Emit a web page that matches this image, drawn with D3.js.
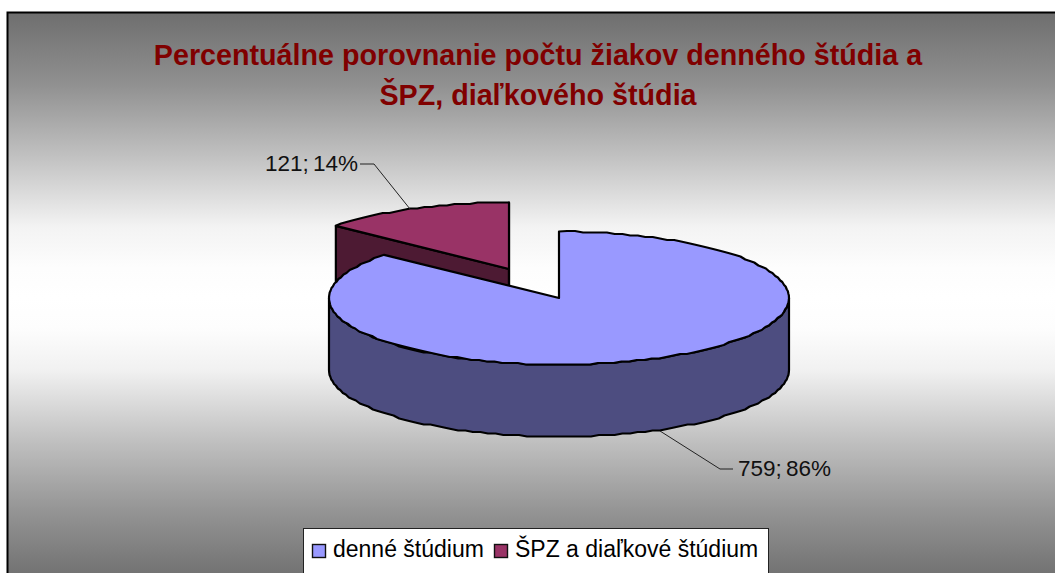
<!DOCTYPE html>
<html><head><meta charset="utf-8">
<script src="https://cdn.jsdelivr.net/npm/d3@7/dist/d3.min.js"></script>
<style>html,body{margin:0;padding:0;background:#fff;overflow:hidden}svg{display:block}</style>
</head><body><svg id="c" width="1055" height="573"></svg>
<script>
const titleLines = ["Percentuálne porovnanie počtu žiakov denného štúdia a", "ŠPZ, diaľkového štúdia"];
const categories = ["denné štúdium", "ŠPZ a diaľkové štúdium"];
const values = [759, 121];
const percents = ["86%", "14%"];
const topColors = ["#9999ff", "#993366"];
const sideColors = ["#4d4d80", "#4d1a33"];

const svg = d3.select("#c");
const defs = svg.append("defs");
const g = defs.append("linearGradient").attr("id","bg").attr("gradientUnits","userSpaceOnUse").attr("x1",0).attr("y1",12).attr("x2",0).attr("y2",573);
[[12,"#6e6e6e"],[84,"#909090"],[155,"#c0c0c0"],[227,"#f3f3f3"],[268,"#fdfdfd"],[298,"#ffffff"],[328,"#fdfdfd"],[370,"#f1f1f1"],[441,"#c0c0c0"],[513,"#939393"],[573,"#737373"]]
  .forEach(s=>g.append("stop").attr("offset",(s[0]-12)/561).attr("stop-color",s[1]));
svg.append("rect").attr("x",7.5).attr("y",12.5).attr("width",1060).attr("height",570).attr("fill","url(#bg)").attr("stroke","#000").attr("stroke-width",2);

titleLines.forEach((t,i)=>svg.append("text").text(t).attr("x",538).attr("y",65+i*40)
  .attr("text-anchor","middle").attr("font-family","Liberation Sans").attr("font-weight","bold").attr("font-size",28.7).attr("fill","#800000"));

const pie = d3.pie().sort(null).value(d=>d);
const arcs = pie(values);
const rx = d3.scaleLinear().domain([0,1]).range([0,230]);
const ry = d3.scaleLinear().domain([0,1]).range([0,66.5]);
const depth = 72;
const cx = 559, cy = 298;
const offsets = [[0,0],[-50,-29]];
const scaleR = [1,0.99];
const snap = v=>Math.round(v/1.5)*1.5;
const pt = (a,i,dz=0)=>[cx+offsets[i][0]+rx(scaleR[i])*Math.sin(a), cy+offsets[i][1]-ry(1)*Math.cos(a)+dz];
const apex = (i,dz=0)=>[cx+offsets[i][0], cy+offsets[i][1]+dz];
// the outline of the reference is a slightly stepped polyline: snap y lightly
const arcPts = (a0,a1,i,dz)=>{
  const n=Math.max(8,Math.round(Math.abs(a1-a0)/0.035));
  return d3.range(0,n+1).map(k=>{
    const p=pt(a0+(a1-a0)*k/n,i,dz);
    return (k===0||k===n)?p:[p[0],snap(p[1])];
  });
};
const line = d3.line();
function shape(points,fill,sw){
  svg.append("path").attr("d",line(points)+"Z").attr("fill",fill).attr("stroke","#000").attr("stroke-width",sw||2.2).attr("stroke-linejoin","round");
}
// red (exploded) slice, drawn first: it lies behind the blue one
{
  const a=arcs[1];
  shape([pt(a.startAngle,1),apex(1),apex(1,depth),pt(a.startAngle,1,depth)],sideColors[1]);
  shape([apex(1),pt(a.endAngle,1),pt(a.endAngle,1,depth),apex(1,depth)],sideColors[1]);
  shape([apex(1),...arcPts(a.startAngle,a.endAngle,1,0)],topColors[1]);
}
// blue slice: wall of the front half, then the top
{
  const a=arcs[0];
  const s=Math.PI/2, e=Math.PI*1.5;
  const front=arcPts(s,e,0,0);
  const back=arcPts(e,s,0,depth);
  shape([...front,...back],sideColors[0]);
  shape([apex(0),...arcPts(a.startAngle,a.endAngle,0,0)],topColors[0]);
}
// leader lines and labels
const leaders = [[[733,469],[720,469],[660,431]],[[360,164],[374,164],[410,209]]];
leaders.forEach(l=>svg.append("path").attr("d",line(l)).attr("fill","none").attr("stroke","#222").attr("stroke-width",1));
const labelPos=[[738,476,"start"],[358,171,"end"]];
values.forEach((v,i)=>svg.append("text").text(v+"; "+percents[i]).attr("x",labelPos[i][0]).attr("y",labelPos[i][1]).attr("text-anchor",labelPos[i][2])
  .attr("font-family","Liberation Sans").attr("font-size",22.5).attr("word-spacing",-2).attr("fill","#111"));
// legend
svg.append("rect").attr("x",303.5).attr("y",528.5).attr("width",465).attr("height",60).attr("fill","#fff").attr("stroke","#222").attr("stroke-width",1);
const legendX=[[312,333],[494,515]];
categories.forEach((c,i)=>{
  svg.append("rect").attr("x",legendX[i][0]+.5).attr("y",544.5).attr("width",13).attr("height",13).attr("fill",topColors[i]).attr("stroke","#111").attr("stroke-width",1.4);
  svg.append("text").text(c).attr("x",legendX[i][1]).attr("y",556.5).attr("font-family","Liberation Sans").attr("font-size",23).attr("fill","#000");
});
</script></body></html>
